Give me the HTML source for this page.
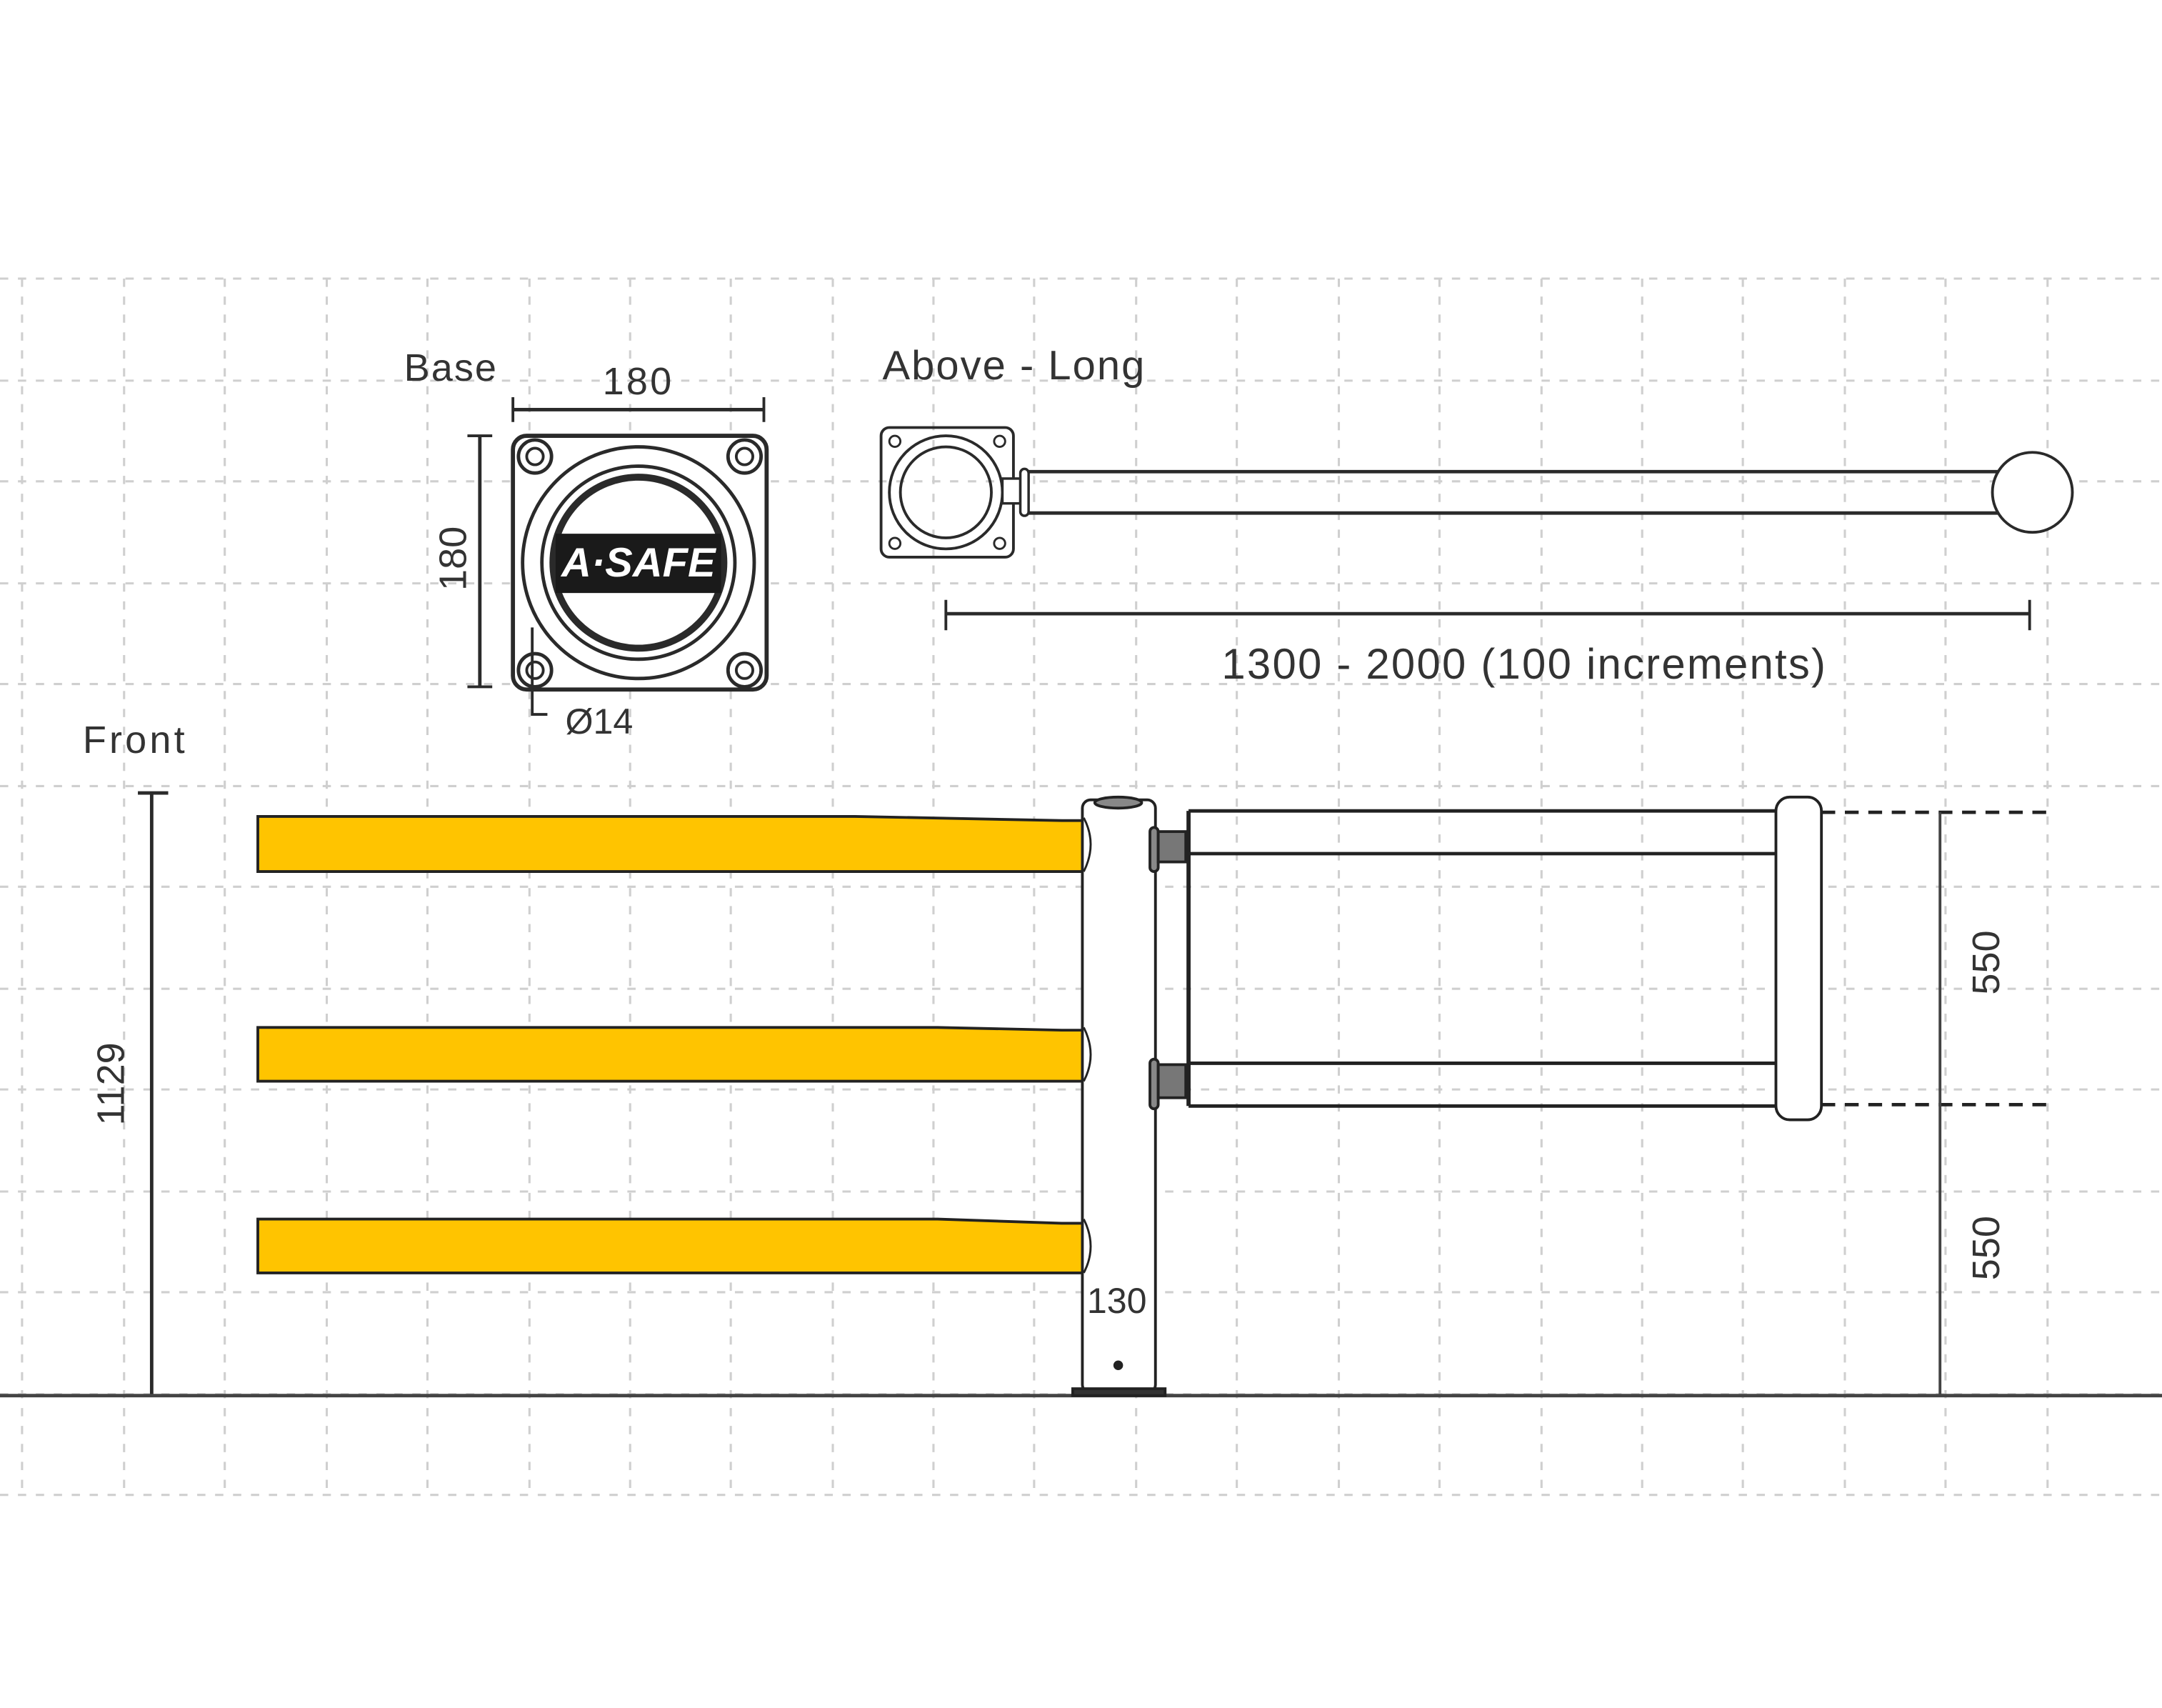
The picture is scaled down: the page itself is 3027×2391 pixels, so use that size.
<!DOCTYPE html>
<html><head><meta charset="utf-8"><style>
html,body{margin:0;padding:0;background:#fff;}
svg{display:block;}
text{font-family:"Liberation Sans",sans-serif;fill:#333;}
</style></head><body>
<svg width="3027" height="2391" viewBox="0 0 1568 1238.5" xmlns="http://www.w3.org/2000/svg">
<rect width="1568" height="1238.5" fill="#fff"/>
<g stroke="#cfcfcf" stroke-width="1.6" stroke-dasharray="6,7" fill="none">
<line x1="16" y1="202" x2="16" y2="1084"/><line x1="90" y1="202" x2="90" y2="1084"/><line x1="163" y1="202" x2="163" y2="1084"/><line x1="237" y1="202" x2="237" y2="1084"/><line x1="310" y1="202" x2="310" y2="1084"/><line x1="384" y1="202" x2="384" y2="1084"/><line x1="457" y1="202" x2="457" y2="1084"/><line x1="530" y1="202" x2="530" y2="1084"/><line x1="604" y1="202" x2="604" y2="1084"/><line x1="677" y1="202" x2="677" y2="1084"/><line x1="750" y1="202" x2="750" y2="1084"/><line x1="824" y1="202" x2="824" y2="1084"/><line x1="897" y1="202" x2="897" y2="1084"/><line x1="971" y1="202" x2="971" y2="1084"/><line x1="1044" y1="202" x2="1044" y2="1084"/><line x1="1118" y1="202" x2="1118" y2="1084"/><line x1="1191" y1="202" x2="1191" y2="1084"/><line x1="1264" y1="202" x2="1264" y2="1084"/><line x1="1338" y1="202" x2="1338" y2="1084"/><line x1="1411" y1="202" x2="1411" y2="1084"/><line x1="1485" y1="202" x2="1485" y2="1084"/>
<line x1="0" y1="202" x2="1568" y2="202"/><line x1="0" y1="276" x2="1568" y2="276"/><line x1="0" y1="349" x2="1568" y2="349"/><line x1="0" y1="423" x2="1568" y2="423"/><line x1="0" y1="496" x2="1568" y2="496"/><line x1="0" y1="570" x2="1568" y2="570"/><line x1="0" y1="643" x2="1568" y2="643"/><line x1="0" y1="717" x2="1568" y2="717"/><line x1="0" y1="790" x2="1568" y2="790"/><line x1="0" y1="864" x2="1568" y2="864"/><line x1="0" y1="937" x2="1568" y2="937"/><line x1="0" y1="1011" x2="1568" y2="1011"/><line x1="0" y1="1084" x2="1568" y2="1084"/>
</g>
<g stroke="#2a2a2a" fill="none">
<line x1="372" y1="297" x2="554" y2="297" stroke-width="2.5"/>
<line x1="372" y1="288" x2="372" y2="306" stroke-width="2"/><line x1="554" y1="288" x2="554" y2="306" stroke-width="2"/>
<line x1="348" y1="316" x2="348" y2="498" stroke-width="2.5"/>
<line x1="339" y1="316" x2="357" y2="316" stroke-width="2"/><line x1="339" y1="498" x2="357" y2="498" stroke-width="2"/>
<rect x="372" y="316" width="184" height="184" rx="10" stroke-width="3" fill="#fff"/>
<circle cx="388" cy="331" r="12" stroke-width="2.5"/><circle cx="388" cy="331" r="6" stroke-width="2"/>
<circle cx="540" cy="331" r="12" stroke-width="2.5"/><circle cx="540" cy="331" r="6" stroke-width="2"/>
<circle cx="388" cy="486" r="12" stroke-width="2.5"/><circle cx="388" cy="486" r="6" stroke-width="2"/>
<circle cx="540" cy="486" r="12" stroke-width="2.5"/><circle cx="540" cy="486" r="6" stroke-width="2"/>
<circle cx="463" cy="408" r="84" stroke-width="2.5"/>
<circle cx="463" cy="408" r="70" stroke-width="2.5"/>
<circle cx="463" cy="408" r="62" stroke-width="5"/>
<rect x="403" y="387" width="120" height="43" fill="#1a1a1a" stroke="none"/>
<path d="M386 455 V518 H397" stroke-width="2"/>
<rect x="639" y="310" width="96" height="94" rx="6" stroke-width="2"/>
<circle cx="649" cy="320" r="4" stroke-width="1.5"/><circle cx="725" cy="320" r="4" stroke-width="1.5"/>
<circle cx="649" cy="394" r="4" stroke-width="1.5"/><circle cx="725" cy="394" r="4" stroke-width="1.5"/>
<circle cx="686" cy="357" r="41" stroke-width="2"/><circle cx="686" cy="357" r="33" stroke-width="2"/>
<rect x="727" y="347" width="13" height="18" stroke-width="1.8" fill="#fff"/>
<rect x="740" y="340" width="6" height="34" rx="3" stroke-width="1.8" fill="#fff"/>
<line x1="746" y1="342" x2="1450" y2="342" stroke-width="2.5"/><line x1="746" y1="372" x2="1450" y2="372" stroke-width="2.5"/>
<circle cx="1474" cy="357" r="29" stroke-width="2" fill="#fff"/>
<line x1="686" y1="445" x2="1472" y2="445" stroke-width="2.5"/>
<line x1="686" y1="435" x2="686" y2="457" stroke-width="2"/><line x1="1472" y1="435" x2="1472" y2="457" stroke-width="2"/>
<line x1="110" y1="575" x2="110" y2="1012" stroke-width="2.5"/>
<line x1="100" y1="575" x2="122" y2="575" stroke-width="2.5"/>
<line x1="0" y1="1012" x2="1568" y2="1012" stroke-width="2.5" stroke="#444"/>
</g>
<g fill="#FFC400" stroke="#222" stroke-width="2">
<path d="M187 592 H620 L770 595 H785 V632 H187 Z"/>
<path d="M187 745 H680 L770 747 H785 V784 H187 Z"/>
<path d="M187 884 H680 L770 887 H785 V923 H187 Z"/>
</g>
<g stroke="#222" fill="#fff" stroke-width="2">
<rect x="785" y="580" width="53" height="430" rx="6"/>
<ellipse cx="811" cy="582" rx="17" ry="4" fill="#888"/>
<path d="M786 593 Q796 612 786 632" fill="none" stroke-width="1.5"/>
<path d="M786 745 Q796 765 786 784" fill="none" stroke-width="1.5"/>
<path d="M786 884 Q796 904 786 923" fill="none" stroke-width="1.5"/>
<rect x="778" y="1007" width="67" height="5" fill="#333"/>
<circle cx="811" cy="990" r="2.5" fill="#222"/>
<rect x="834" y="600" width="6" height="32" rx="3" fill="#888"/>
<rect x="840" y="603" width="20" height="22" fill="#777"/>
<rect x="834" y="768" width="6" height="36" rx="3" fill="#888"/>
<rect x="840" y="772" width="20" height="24" fill="#777"/>
<line x1="862" y1="588" x2="862" y2="802" stroke-width="3"/>
<line x1="862" y1="588" x2="1290" y2="588" stroke-width="2.5"/>
<line x1="862" y1="619" x2="1290" y2="619" stroke-width="2.5"/>
<line x1="862" y1="771" x2="1290" y2="771" stroke-width="2.5"/>
<line x1="862" y1="802" x2="1290" y2="802" stroke-width="2.5"/>
<rect x="1288" y="578" width="33" height="234" rx="10"/>
<line x1="1321" y1="589" x2="1485" y2="589" stroke-width="2.5" stroke-dasharray="10,7"/>
<line x1="1321" y1="801" x2="1485" y2="801" stroke-width="2.5" stroke-dasharray="10,7"/>
<line x1="1407" y1="589" x2="1407" y2="1012" stroke-width="2" stroke="#444"/>
</g>
<text x="293" y="276" font-size="28" textLength="67">Base</text>
<text x="437" y="286" font-size="28" textLength="50">180</text>
<text transform="translate(338,405) rotate(-90)" font-size="28" text-anchor="middle">180</text>
<text x="463" y="418" font-size="30" font-weight="bold" text-anchor="middle" style="fill:#fff;font-style:italic">A·SAFE</text>
<text x="410" y="532" font-size="26">Ø14</text>
<text x="640" y="275" font-size="30" textLength="190">Above - Long</text>
<text x="886" y="492" font-size="31" textLength="438">1300 - 2000 (100 increments)</text>
<text x="60" y="546" font-size="28" textLength="74">Front</text>
<text transform="translate(90,786) rotate(-90)" font-size="28" text-anchor="middle">1129</text>
<text x="810" y="952" font-size="26" text-anchor="middle">130</text>
<text transform="translate(1450,698) rotate(-90)" font-size="28" text-anchor="middle">550</text>
<text transform="translate(1450,905) rotate(-90)" font-size="28" text-anchor="middle">550</text>
</svg>
</body></html>
